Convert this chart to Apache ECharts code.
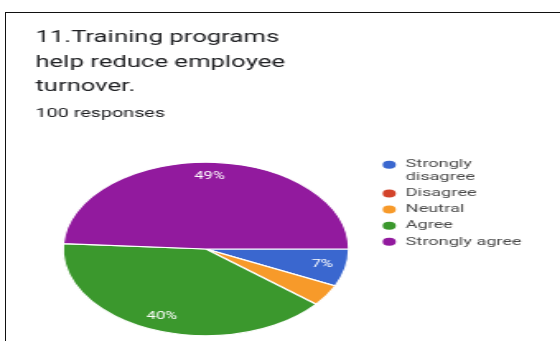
<!DOCTYPE html>
<html>
<head>
<meta charset="utf-8">
<script src="https://cdn.jsdelivr.net/npm/echarts@6/dist/echarts.min.js"></script>
<style>
  html, body { margin: 0; padding: 0; background: #fff; overflow: hidden; }
  #frame {
    position: absolute; left: 5px; top: 12px; width: 600px; height: 400px;
    border-top: 1.5px solid #111; border-left: 1.5px solid #111;
    pointer-events: none; z-index: 2;
  }
  /* The card is laid out narrow and widened horizontally, like the stretched screenshot. */
  #chart {
    position: absolute; left: 0; top: 0; width: 340px; height: 341px;
    transform: scaleX(1.6471); transform-origin: 0 0;
  }
</style>
</head>
<body>
<div id="chart"></div>
<div id="frame"></div>
<script>
// Survey question and answer counts (100 responses)
const questionTitle = '11.Training programs\nhelp reduce employee\nturnover.';
const responseNote = '100 responses';
const categories = ['Strongly disagree', 'Disagree', 'Neutral', 'Agree', 'Strongly agree'];
const responses = [7, 0, 4, 40, 49];
const sliceColors = ['#3a67cf', '#d3432a', '#f79a2a', '#3b982d', '#921a9e'];

const pieCenter = [125, 249];
const pieRadius = 86.8;

const pieData = categories.map((name, i) => ({
  name: name,
  value: responses[i],
  itemStyle: { color: sliceColors[i] }
}));

const legendData = categories.map((name, i) => ({
  name: name,
  itemStyle: { color: sliceColors[i] }
}));

const chart = echarts.init(document.getElementById('chart'), null, { renderer: 'canvas' });

chart.setOption({
  animation: false,
  backgroundColor: '#ffffff',
  title: [
    {
      text: questionTitle,
      left: 21.5,
      top: 26,
      padding: 0,
      textStyle: {
        fontFamily: 'Roboto',
        fontSize: 15.6,
        fontWeight: 'normal',
        lineHeight: 24.4,
        color: '#202124'
      }
    },
    {
      text: responseNote,
      left: 21.5,
      top: 108,
      padding: 0,
      textStyle: {
        fontFamily: 'Roboto',
        fontSize: 12,
        fontWeight: 'normal',
        lineHeight: 12,
        color: '#202124'
      }
    }
  ],
  legend: {
    orient: 'vertical',
    left: 230.3,
    top: 145.6,
    padding: 0,
    itemGap: 3.4,
    itemWidth: 10,
    itemHeight: 10,
    icon: 'circle',
    selectedMode: false,
    data: legendData,
    formatter: function (name) {
      // wrapped entry: a blank first line keeps "Strongly" level with the dot
      return name === 'Strongly disagree' ? '\u00a0\nStrongly\ndisagree' : name;
    },
    textStyle: {
      fontFamily: 'Roboto',
      fontSize: 11,
      lineHeight: 12.7,
      color: '#4a4a4a'
    }
  },
  series: [
    {
      // the slices
      type: 'pie',
      center: pieCenter,
      radius: [0, pieRadius],
      startAngle: 0,
      clockwise: true,
      silent: true,
      label: { show: false },
      labelLine: { show: false },
      itemStyle: { borderColor: '#ffffff', borderWidth: 1.2 },
      data: pieData
    },
    {
      // percentage labels, placed at 80% of the radius
      type: 'pie',
      center: pieCenter,
      radius: [pieRadius * 0.6, pieRadius],
      startAngle: 0,
      clockwise: true,
      silent: true,
      itemStyle: { color: 'transparent', borderWidth: 0 },
      labelLine: { show: false },
      label: {
        show: true,
        position: 'inside',
        color: '#ffffff',
        fontFamily: 'Roboto',
        fontSize: 10,
        formatter: function (p) {
          return p.percent >= 5 ? Math.round(p.percent) + '%' : '';
        }
      },
      data: categories.map((name, i) => ({ name: name, value: responses[i] }))
    }
  ]
});
</script>
</body>
</html>
